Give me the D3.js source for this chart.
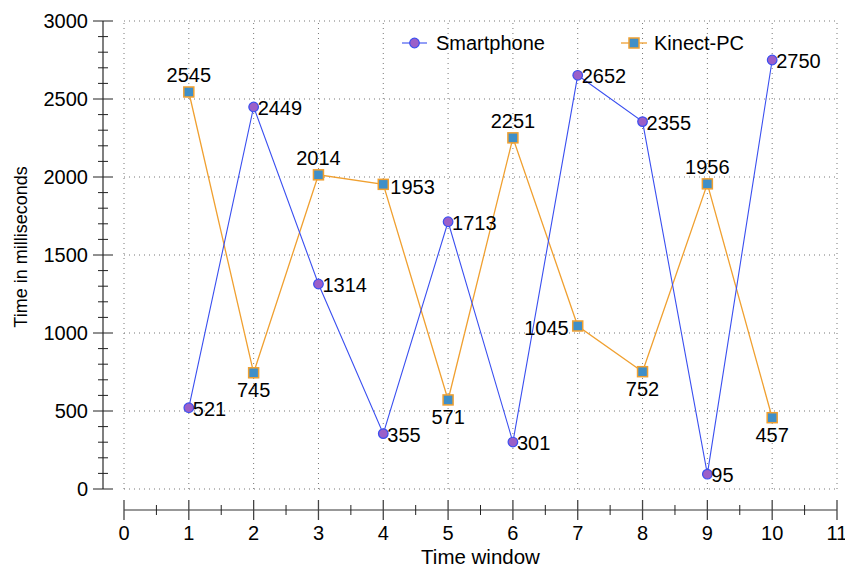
<!DOCTYPE html>
<html><head><meta charset="utf-8">
<script src="https://cdn.jsdelivr.net/npm/d3@7"></script>
<style>body{margin:0;background:#fff}svg text{font-family:"Liberation Sans",Arial,Helvetica,sans-serif}</style>
</head><body><svg id="c" width="845" height="570"></svg>
<script>
const windows = [1,2,3,4,5,6,7,8,9,10];
const smartphone = [521,2449,1314,355,1713,301,2652,2355,95,2750];
const kinect = [2545,745,2014,1953,571,2251,1045,752,1956,457];
// label placement for Kinect-PC values
const kinectLabelPos = ["above","below","above","right","below","above","left","below","above","below"];
const xTicks = d3.range(0,12);
const yTicks = [0,500,1000,1500,2000,2500,3000];

const svg = d3.select("#c");
const x = d3.scaleLinear().domain([0,11]).range([124,837]);
const y = d3.scaleLinear().domain([0,3000]).range([489,21]);
const fs = 20;

// grid
const g = svg.append("g");
g.selectAll(".vg").data(xTicks).join("line")
  .attr("x1",d=>x(d)).attr("x2",d=>x(d)).attr("y1",y(0)).attr("y2",y(3000))
  .attr("stroke","#777").attr("stroke-width",1).attr("stroke-dasharray","1,4");
g.selectAll(".hg").data(yTicks).join("line")
  .attr("x1",x(0)).attr("x2",x(11)).attr("y1",d=>y(d)).attr("y2",d=>y(d))
  .attr("stroke","#777").attr("stroke-width",1).attr("stroke-dasharray","1,4");

// y axis
const yax = svg.append("g");
yax.append("line").attr("x1",103).attr("x2",103).attr("y1",y(0)).attr("y2",y(3000)).attr("stroke","#555").attr("stroke-width",1.5);
yax.selectAll(".ymin").data(d3.range(0,3001,100).filter(v=>v%500)).join("line")
  .attr("x1",98).attr("x2",108).attr("y1",d=>y(d)).attr("y2",d=>y(d)).attr("stroke","#222");
yax.selectAll(".ymaj").data(yTicks).join("line")
  .attr("x1",93).attr("x2",113).attr("y1",d=>y(d)).attr("y2",d=>y(d)).attr("stroke","#222");
yax.selectAll(".ylab").data(yTicks).join("text")
  .attr("x",88).attr("y",d=>y(d)).attr("dy","0.36em").attr("text-anchor","end")
  .attr("font-size",fs).text(d=>d);

// x axis
const xay = 510;
const xax = svg.append("g");
xax.append("line").attr("x1",x(0)).attr("x2",x(11)).attr("y1",xay).attr("y2",xay).attr("stroke","#333").attr("stroke-width",1.2);
xax.selectAll(".xmin").data(d3.range(0.5,11,1)).join("line")
  .attr("x1",d=>x(d)).attr("x2",d=>x(d)).attr("y1",xay-5).attr("y2",xay+5).attr("stroke","#222");
xax.selectAll(".xmaj").data(xTicks).join("line")
  .attr("x1",d=>x(d)).attr("x2",d=>x(d)).attr("y1",xay-10).attr("y2",xay+10).attr("stroke","#444").attr("stroke-width",1.3);
xax.selectAll(".xlab").data(xTicks).join("text")
  .attr("x",d=>x(d)).attr("y",xay+30).attr("text-anchor","middle")
  .attr("font-size",fs).text(d=>d);

svg.append("text").attr("x",x(5.5)).attr("y",564).attr("text-anchor","middle").attr("font-size",20.5).text("Time window");
svg.append("text").attr("transform","translate(27,247) rotate(-90)").attr("text-anchor","middle").attr("font-size",18).text("Time in milliseconds");

const line = d3.line().x(d=>x(d[0])).y(d=>y(d[1]));
const sData = windows.map((w,i)=>[w,smartphone[i]]);
const kData = windows.map((w,i)=>[w,kinect[i]]);
const blue = "#3a4ff0", purple = "#9b5fc8", orange = "#f0a030", sq = "#3f8fc8";

svg.append("path").attr("d",line(kData)).attr("fill","none").attr("stroke",orange).attr("stroke-width",1.3);
svg.append("path").attr("d",line(sData)).attr("fill","none").attr("stroke",blue).attr("stroke-width",1.1);

svg.selectAll(".ks").data(kData).join("rect")
  .attr("x",d=>x(d[0])-5).attr("y",d=>y(d[1])-5).attr("width",10).attr("height",10)
  .attr("fill",sq).attr("stroke",orange).attr("stroke-width",1.5);
svg.selectAll(".sc").data(sData).join("circle")
  .attr("cx",d=>x(d[0])).attr("cy",d=>y(d[1])).attr("r",4.8)
  .attr("fill",purple).attr("stroke",blue).attr("stroke-width",1.2);

// labels
svg.selectAll(".sl").data(sData).join("text")
  .attr("x",d=>x(d[0])+4).attr("y",d=>y(d[1])+1).attr("dy","0.36em")
  .attr("font-size",fs).text(d=>d[1]);
svg.selectAll(".kl").data(kData).join("text")
  .attr("x",(d,i)=>{const p=kinectLabelPos[i];return p==="right"?x(d[0])+7:p==="left"?x(d[0])-9:x(d[0]);})
  .attr("y",(d,i)=>{const p=kinectLabelPos[i];return p==="above"?y(d[1])-17:p==="below"?y(d[1])+17:y(d[1])+2;})
  .attr("dy","0.36em")
  .attr("text-anchor",(d,i)=>{const p=kinectLabelPos[i];return p==="right"?"start":p==="left"?"end":"middle";})
  .attr("font-size",fs).text(d=>d[1]);

// legend
const lg = svg.append("g");
lg.append("line").attr("x1",402).attr("x2",427).attr("y1",43).attr("y2",43).attr("stroke",blue).attr("stroke-width",1.1);
lg.append("circle").attr("cx",414.5).attr("cy",43).attr("r",4.8).attr("fill",purple).attr("stroke",blue).attr("stroke-width",1.2);
lg.append("text").attr("x",436).attr("y",43).attr("dy","0.36em").attr("font-size",fs).text("Smartphone");
lg.append("line").attr("x1",621).attr("x2",647).attr("y1",43).attr("y2",43).attr("stroke",orange).attr("stroke-width",1.3);
lg.append("rect").attr("x",629).attr("y",38).attr("width",10).attr("height",10).attr("fill",sq).attr("stroke",orange).attr("stroke-width",1.5);
lg.append("text").attr("x",654).attr("y",43).attr("dy","0.36em").attr("font-size",fs).text("Kinect-PC");
</script></body></html>
